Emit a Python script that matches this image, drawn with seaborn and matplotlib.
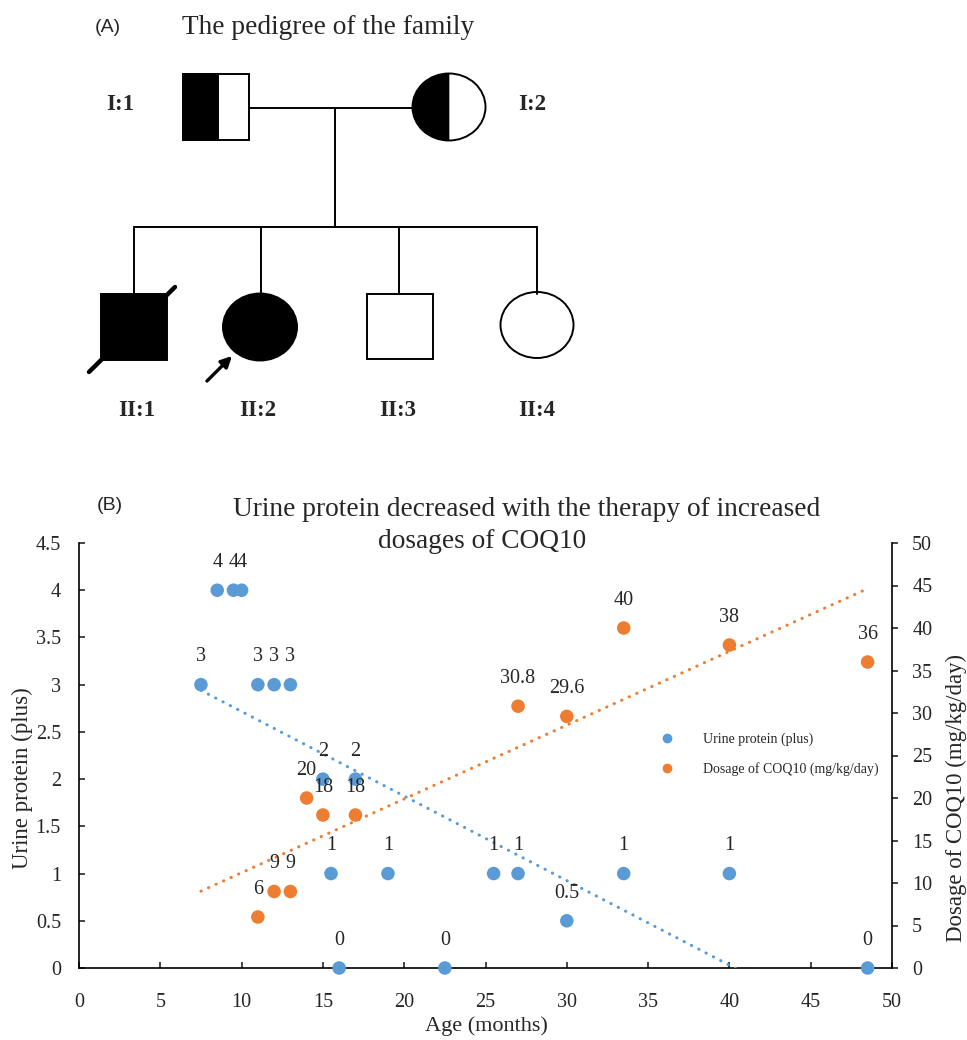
import numpy as np
import seaborn as sns
import matplotlib.pyplot as plt
from matplotlib.patches import Rectangle, Ellipse, Polygon
from matplotlib.lines import Line2D
from matplotlib import ticker

# (B) urine protein (plus) by age in months
age_protein = [7.5, 8.5, 9.5, 10, 11, 12, 13, 15, 15.5, 16, 17, 19, 22.5, 25.5, 27, 30, 33.5, 40, 48.5]
protein = [3, 4, 4, 4, 3, 3, 3, 2, 1, 0, 2, 1, 0, 1, 1, 0.5, 1, 1, 0]

# (B) CoQ10 dosage (mg/kg/day) by age in months
age_dose = [11, 12, 13, 14, 15, 17, 27, 30, 33.5, 40, 48.5]
dose = [6, 9, 9, 20, 18, 18, 30.8, 29.6, 40, 38, 36]

x_ticks = [0, 5, 10, 15, 20, 25, 30, 35, 40, 45, 50]
protein_ticks = [0, 0.5, 1, 1.5, 2, 2.5, 3, 3.5, 4, 4.5]
dose_ticks = [0, 5, 10, 15, 20, 25, 30, 35, 40, 45, 50]

BLUE = '#5B9BD5'
ORANGE = '#ED7D31'
W, H = 967, 1040

sns.set_style('white')
plt.rcParams['font.family'] = ['Liberation Serif', 'DejaVu Serif']

fig = plt.figure(figsize=(W / 100, H / 100), dpi=100)


def px(x, y):
    return x / W, 1 - y / H


# ---------------- (A) pedigree ----------------
ped = fig.add_axes([0, 1 - 460 / H, 1, 460 / H])
ped.set_xlim(0, W)
ped.set_ylim(460, 0)
ped.axis('off')
lw = 1.4

# lines of descent
ped.plot([249, 413], [108, 108], color='black', lw=lw)
ped.plot([335, 335], [108, 227], color='black', lw=lw)
ped.plot([134, 537], [227, 227], color='black', lw=lw)
for cx in [134, 261, 399, 537]:
    ped.plot([cx, cx], [227, 294], color='black', lw=lw)

# I:1 carrier male
ped.add_patch(Rectangle((183, 74), 66, 66, fc='white', ec='black', lw=lw))
ped.add_patch(Rectangle((183, 74), 35, 66, fc='black', ec='black', lw=lw))

# I:2 carrier female
ped.add_patch(Ellipse((449, 107), 73, 67, fc='white', ec='black', lw=lw))
t = np.linspace(np.pi / 2, 3 * np.pi / 2, 80)
ped.add_patch(Polygon(np.column_stack([449 + 36.5 * np.cos(t), 107 + 33.5 * np.sin(t)]),
                      closed=True, fc='black', ec='black', lw=0.5))

# II:1 affected, deceased
ped.add_patch(Rectangle((101, 294), 66, 66, fc='black', ec='black', lw=lw))
ped.plot([89, 175], [372, 287], color='black', lw=3.2)
# II:2 proband
ped.add_patch(Ellipse((260, 327), 74, 67, fc='black', ec='black', lw=lw))
ped.annotate('', xy=(234, 354), xytext=(205, 383),
             arrowprops=dict(arrowstyle='-|>', lw=2.4, color='black', mutation_scale=16))
# II:3, II:4 unaffected
ped.add_patch(Rectangle((367, 294), 66, 65, fc='white', ec='black', lw=lw))
ped.add_patch(Ellipse((537, 325), 73, 66, fc='white', ec='black', lw=lw))

for lab, x, y in [('I:1', 120, 104), ('I:2', 532, 104), ('II:1', 137, 410),
                  ('II:2', 258, 410), ('II:3', 398, 410), ('II:4', 537, 410)]:
    ped.text(x, y, lab, ha='center', va='center', fontsize=16.5, fontweight='bold')

fig.text(*px(95, 28), '(A)', ha='left', va='center', fontsize=14,
         family=['Liberation Sans', 'DejaVu Sans'])
fig.text(*px(182, 28), 'The pedigree of the family', ha='left', va='center', fontsize=19.7)

# ---------------- (B) urine protein vs CoQ10 ----------------
ax = fig.add_axes([79 / W, 1 - 968 / H, (892 - 79) / W, (968 - 543) / H])
ax2 = ax.twinx()

sns.scatterplot(x=age_protein, y=protein, ax=ax, color=BLUE, s=95, edgecolor='none',
                legend=False, clip_on=False, zorder=4)
sns.scatterplot(x=age_dose, y=dose, ax=ax2, color=ORANGE, s=95, edgecolor='none',
                legend=False, clip_on=False, zorder=4)

# linear trendlines over the whole age range
x_fit = np.array([min(age_protein + age_dose), max(age_protein + age_dose)])
k1, b1 = np.polyfit(age_protein, protein, 1)
k2, b2 = np.polyfit(age_dose, dose, 1)
dots = dict(lw=2.2, linestyle=(0, (0.1, 2.6)), dash_capstyle='round')
sns.lineplot(x=x_fit, y=k1 * x_fit + b1, ax=ax, color=BLUE, zorder=3, **dots)
sns.lineplot(x=x_fit, y=k2 * x_fit + b2, ax=ax2, color=ORANGE, zorder=3, **dots)

for x, v in zip(age_protein, protein):
    ax.annotate(f'{v:g}', (x, v), xytext=(0, 20), textcoords='offset points',
                ha='center', va='center', fontsize=14.5, annotation_clip=False)
for x, v in zip(age_dose, dose):
    ax2.annotate(f'{v:g}', (x, v), xytext=(0, 20), textcoords='offset points',
                 ha='center', va='center', fontsize=14.5, annotation_clip=False)

ax.set_xlim(0, 50)
ax.set_ylim(0, 4.5)
ax2.set_ylim(0, 50)
ax.set_xticks(x_ticks)
ax.set_yticks(protein_ticks)
ax2.set_yticks(dose_ticks)
fmt = ticker.FuncFormatter(lambda v, p: f'{v:g}')
ax.xaxis.set_major_formatter(fmt)
ax.yaxis.set_major_formatter(fmt)
ax2.yaxis.set_major_formatter(fmt)

for a in (ax, ax2):
    a.spines['top'].set_visible(False)
    for s in a.spines.values():
        s.set_color('black')
        s.set_linewidth(1.2)
ax.spines['right'].set_visible(False)
ax2.spines['left'].set_visible(False)
ax2.spines['bottom'].set_visible(False)
ax.tick_params(axis='x', direction='in', length=4.5, width=1.2, pad=18, labelsize=14.5, bottom=True)
ax.tick_params(axis='y', direction='in', length=4.5, width=1.2, pad=13, labelsize=14.5, left=True)
ax2.tick_params(axis='y', direction='out', length=4.5, width=1.2, pad=10, labelsize=14.5, right=True)
ax.set_xlabel('')
ax.set_ylabel('')
ax2.set_ylabel('')

fig.text(*px(486, 1026), 'Age (months)', ha='center', va='center', fontsize=16)
fig.text(*px(22, 778), 'Urine protein (plus)', ha='center', va='center', rotation=90, fontsize=16.5)
fig.text(*px(956, 798), 'Dosage of COQ10 (mg/kg/day)', ha='center', va='center', rotation=90, fontsize=16.4)

fig.text(*px(97, 506), '(B)', ha='left', va='center', fontsize=14,
         family=['Liberation Sans', 'DejaVu Sans'])
fig.text(*px(527, 510), 'Urine protein decreased with the therapy of increased',
         ha='center', va='center', fontsize=19.7)
fig.text(*px(482, 542), 'dosages of COQ10', ha='center', va='center', fontsize=19.7)

handles = [Line2D([], [], marker='o', ls='', color=BLUE, markersize=6),
           Line2D([], [], marker='o', ls='', color=ORANGE, markersize=6)]
fig.legend(handles, ['Urine protein (plus)', 'Dosage of COQ10 (mg/kg/day)'],
           loc='upper left', bbox_to_anchor=px(660, 733), frameon=False, fontsize=10,
           handlelength=1.0, handletextpad=2.1, labelspacing=1.15,
           borderpad=0, borderaxespad=0)

fig.savefig('out.png', dpi=100)
